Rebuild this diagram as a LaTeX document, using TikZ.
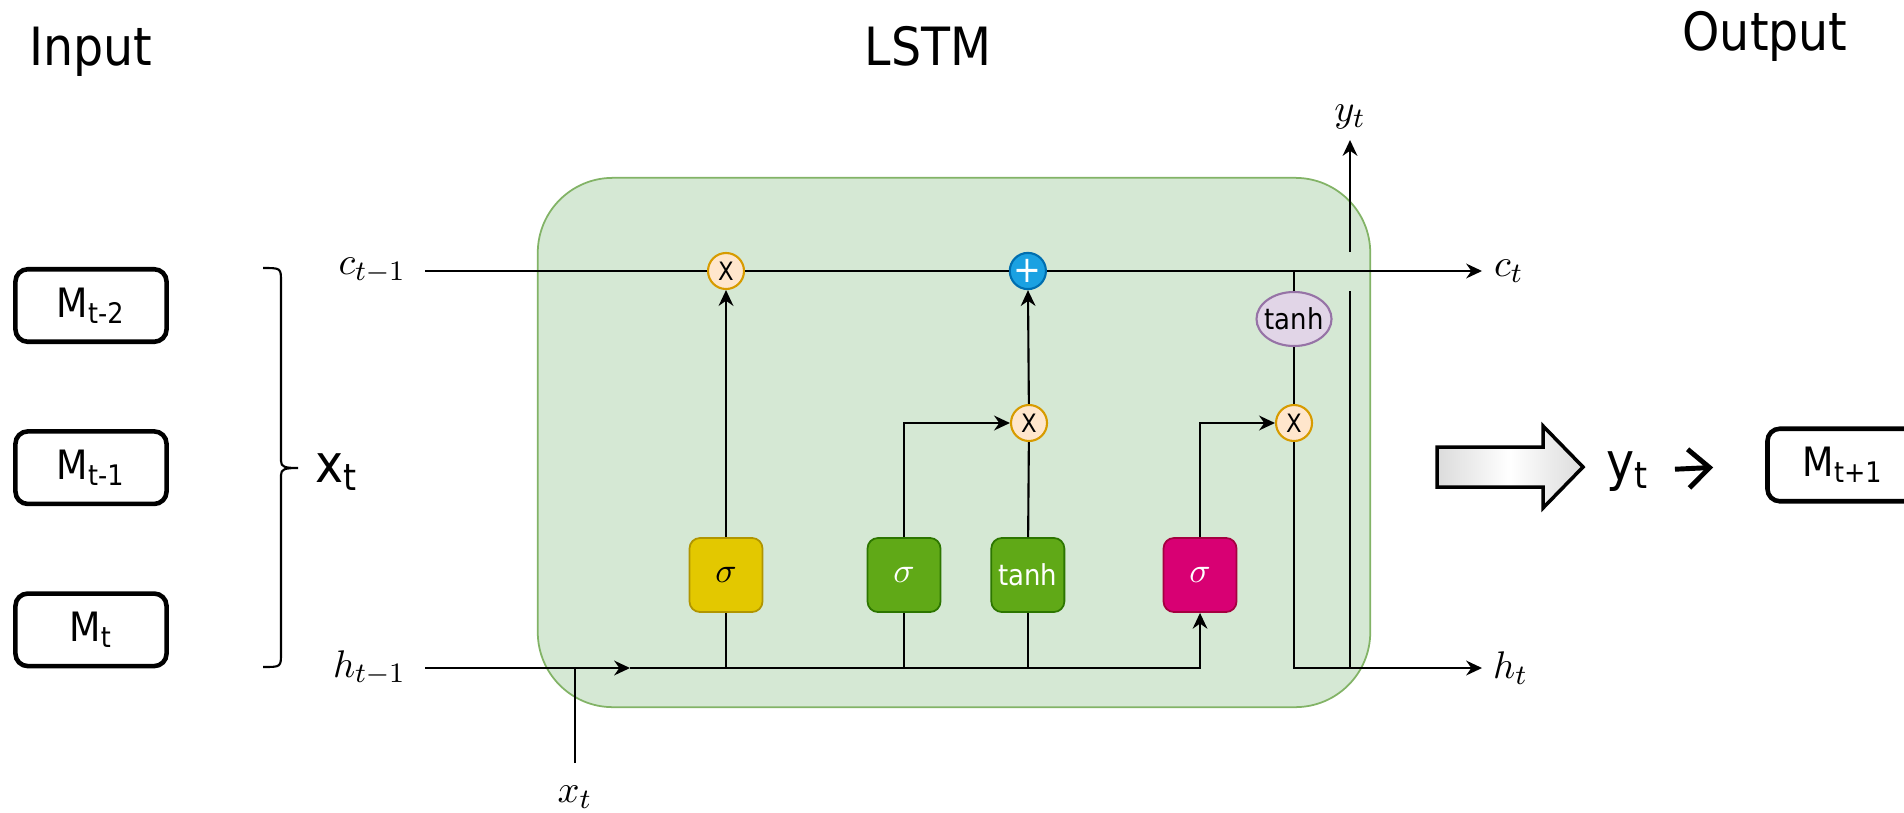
\documentclass[tikz,border=0pt]{standalone}
\usepackage[no-math]{fontspec}
\setmainfont{DejaVu Sans Condensed}
\usepackage{tikz}
\usetikzlibrary{arrows.meta}
\usetikzlibrary{positioning}
\usetikzlibrary{calc}
\usetikzlibrary{shapes.geometric}
\definecolor{cellfill}{HTML}{D5E8D4}
\definecolor{cellline}{HTML}{82B366}
\definecolor{yelfill}{HTML}{E3C800}
\definecolor{yelline}{HTML}{B09500}
\definecolor{grnfill}{HTML}{60A917}
\definecolor{grnline}{HTML}{2D7600}
\definecolor{pnkfill}{HTML}{D80073}
\definecolor{pnkline}{HTML}{A50040}
\definecolor{opfill}{HTML}{FFE6CC}
\definecolor{opline}{HTML}{D79B00}
\definecolor{addfill}{HTML}{1BA1E2}
\definecolor{addline}{HTML}{006EAF}
\definecolor{thfill}{HTML}{E1D5E7}
\definecolor{thline}{HTML}{9673A6}

\begin{document}
\begin{tikzpicture}[x=0.01cm,y=-0.01cm,line width=0.6pt,every node/.style={inner sep=0pt},
  arr/.style={-{Stealth[length=4.5pt,width=4.2pt]}},
  headtext/.style={anchor=base,font=\fontsize{15}{18}\selectfont},
  bigtext/.style={anchor=base west,font=\fontsize{15}{18}\selectfont},
  lbl/.style={font=\fontsize{11}{13}\selectfont},
  mbox/.style={draw,line width=1.3pt,rounded corners=3.5pt,minimum width=1.51cm,minimum height=0.725cm,font=\fontsize{11.5}{13}\selectfont},
  cellbox/.style={draw=cellline,fill=cellfill,line width=0.5pt,rounded corners=0.75cm,minimum width=8.32cm,minimum height=5.29cm},
  gate/.style={draw,rounded corners=3pt,line width=0.5pt,minimum width=0.73cm,minimum height=0.74cm,font=\fontsize{10}{12}\selectfont},
  opnode/.style={circle,draw=opline,fill=opfill,minimum size=0.36cm,font=\fontsize{7.2}{8}\selectfont},
  thnode/.style={ellipse,draw=thline,fill=thfill,minimum width=0.75cm,minimum height=0.54cm,label={[font=\fontsize{8.2}{10}\selectfont]center:tanh}}]
  \useasboundingbox (0,0) rectangle (1904,812);
  \node[cellbox] (cell) at (954,442.5) {};

  \node[headtext] (input) at (91,65) {Input};
  \node[headtext] (lstm) at (928,65) {LSTM};
  \node[headtext] (output) at (1765,50) {Output};

  \node[mbox] (m2) at (91,305.5) {M\textsubscript{t-2}};
  \node[mbox,below=0.85cm of m2] (m1) {M\textsubscript{t-1}};
  \node[mbox,below=0.85cm of m1] (m0) {M\textsubscript{t}};
  \draw (263,268) .. controls (281,268) .. (281,282) -- (281,461) .. controls (281,467) and (285,468) .. (298,468)
    .. controls (285,468) and (281,469) .. (281,475) -- (281,653) .. controls (281,667) .. (263,667);
  \node[bigtext] (xbig) at (314,482) {x\textsubscript{t}};

  \coordinate (cin) at (425,271);
  \coordinate (cout) at (1482,271);
  \coordinate (hin) at (425,668);
  \coordinate (hmid) at (630,668);
  \coordinate (hout) at (1482,668);
  \coordinate (xin) at (575,763);
  \coordinate (yout) at (1350,140);
  \node[lbl,left=0.18cm of cin] (cprev) {$c_{t-1}$};
  \node[lbl,right=0.11cm of cout] (cnext) {$c_t$};
  \node[lbl,left=0.18cm of hin] (hprev) {$h_{t-1}$};
  \node[lbl,right=0.1cm of hout] (hnext) {$h_t$};
  \node[lbl,below=0.22cm of xin] (xsmall) {$x_t$};
  \node[lbl,above=0.1cm of yout] (ysmall) {$y_t$};

  \node[gate,draw=yelline,fill=yelfill] (gF) at (726,575) {$\sigma$};
  \node[gate,draw=grnline,fill=grnfill,text=white] (gI) at (904,575) {$\sigma$};
  \node[gate,draw=grnline,fill=grnfill,text=white,font=\fontsize{8.2}{10}\selectfont,right=0.49cm of gI] (gC) {tanh};
  \node[gate,draw=pnkline,fill=pnkfill,text=white] (gO) at (1200,575) {$\sigma$};

  \node[opnode] (mul1) at (gF |- cin) {X};
  \node[opnode,draw=addline,fill=addfill,text=white,font=\fontsize{10.5}{12}\selectfont] (add) at (gC |- cin) {+};
  \node[opnode] (mul2) at (1029,423) {X};
  \node[opnode] (mul3) at (1294,423) {X};
  \node[thnode] (tanhC) at (1294,319) {};

  \draw (cin) -- (mul1) -- (add);
  \draw[arr] (add) -- (cout);
  \draw[arr] (hin) -- (hmid);
  \draw[arr] (hmid) -| (gO);
  \draw (xin) -- (xin |- hin);
  \draw (gF) -- (gF |- hin);
  \draw (gI) -- (gI |- hin);
  \draw (gC) -- (gC |- hin);
  \draw[arr] (gF) -- (mul1);
  \draw[arr] (gI) |- (mul2);
  \draw (gC) -- (mul2);
  \draw[arr] (mul2) -- (add);
  \draw[arr] (gO) |- (mul3);
  \draw (tanhC |- cin) -- (tanhC);
  \draw (tanhC) -- (mul3);
  \draw[arr] (mul3) |- (hout);
  \draw (yout |- hout) -- ($(yout |- cin)+(0,20)$);
  \draw[arr] ($(yout |- cin)+(0,-19)$) -- (yout);

  \shadedraw[left color=black!14,right color=black!14,middle color=white,line width=1pt] (1437,447) -- (1543,447) -- (1543,426) -- (1583,467) -- (1543,508) -- (1543,487) -- (1437,487) -- cycle;
  \node[bigtext] (ybig) at (1605,480) {y\textsubscript{t}};
  \node[mbox] (mnext) at (1843,465) {M\textsubscript{t+1}};
  \draw[line width=1.4pt,-{Straight Barb[length=6pt,width=11pt]},shorten <=0.25cm,shorten >=0.52cm] (ybig.mid east) -- (mnext.west);
\end{tikzpicture}
\end{document}
